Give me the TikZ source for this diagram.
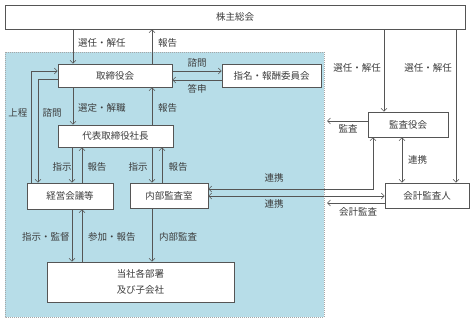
\documentclass[tikz,border=0pt]{standalone}
\usepackage{fontspec}
\newfontfamily\jp{Noto Sans CJK JP}
\usetikzlibrary{arrows.meta}
\definecolor{bluebg}{RGB}{183,221,232}
\definecolor{lin}{RGB}{85,85,85}
\definecolor{txt}{RGB}{60,60,60}
\begin{document}
\begin{tikzpicture}[x=1pt,y=-1pt,
  font=\jp\fontsize{9.5pt}{11pt}\selectfont,
  box/.style={draw=lin,fill=white,line width=0.6pt,inner sep=0pt,text=txt,align=center},
  lab/.style={text=txt,inner sep=0pt},
  arr/.style={draw=lin,line width=0.6pt,-{Straight Barb[length=3pt,width=6pt]}},
  darr/.style={draw=lin,line width=0.6pt,{Straight Barb[length=3pt,width=6pt]}-{Straight Barb[length=3pt,width=6pt]}}]
\useasboundingbox (0,0) rectangle (475,324);
\fill[white] (0,0) rectangle (475,324);
\draw[fill=bluebg,draw=black!35,line width=0.4pt,dash pattern=on 1pt off 1pt] (5,52) rectangle (324,317);
% boxes
\node[box,minimum width=460pt,minimum height=24pt] (soukai) at (235,17) {株主総会};
\node[box,minimum width=114pt,minimum height=23pt] (tori) at (115,75.5) {取締役会};
\node[box,minimum width=99pt,minimum height=23pt] (iinkai) at (271.5,75.5) {指名・報酬委員会};
\node[box,minimum width=115pt,minimum height=22pt] (daihyo) at (115.5,136) {代表取締役社長};
\node[box,minimum width=86pt,minimum height=26pt] (keiei) at (70,196) {経営会議等};
\node[box,minimum width=78pt,minimum height=25pt] (naibu) at (169,195.5) {内部監査室};
\node[box,minimum width=80pt,minimum height=25pt] (kansayaku) at (408,124.5) {監査役会};
\node[box,minimum width=84pt,minimum height=25pt] (kaikei) at (427,195.5) {会計監査人};
\node[box,minimum width=187pt,minimum height=40pt,font=\jp\fontsize{9.5pt}{16pt}\selectfont] (tousha) at (140.5,282) {当社各部署\\及び子会社};
% columns / rows
\coordinate (c31) at (31,0);
\coordinate (c38) at (38,0);
\coordinate (c72) at (72,0);
\coordinate (c73) at (73,0);
\coordinate (c82) at (82,0);
\coordinate (c152) at (152,0);
\coordinate (c162) at (162,0);
\coordinate (c373) at (373,0);
\coordinate (c384) at (384,0);
\coordinate (c402) at (402,0);
\coordinate (c456) at (456,0);
\coordinate (r71) at (0,71);
\coordinate (r79) at (0,79);
\coordinate (r80) at (0,80);
\coordinate (r121) at (0,121);
\coordinate (r189) at (0,189);
\coordinate (r196) at (0,196);
\coordinate (r203) at (0,203);
\coordinate (kansaend) at (327,121);
\coordinate (kaikeiend) at (327,203);
% connectors
\draw[arr] (soukai.south -| c73) -- (tori.north -| c73);
\node[lab,anchor=west] (l1) at (78,43) {選任・解任};
\draw[arr] (tori.north -| c152) -- (soukai.south -| c152);
\node[lab,anchor=west] (l2) at (158,43) {報告};
\draw[arr] (tori.east |- r71) -- (iinkai.west |- r71);
\node[lab] (l3) at (197,63) {諮問};
\draw[arr] (iinkai.west |- r80) -- (tori.east |- r80);
\node[lab] (l4) at (197,89) {答申};
\draw[arr] (tori.south -| c73) -- (daihyo.north -| c73);
\node[lab,anchor=west] (l5) at (78,108) {選定・解職};
\draw[arr] (daihyo.north -| c152) -- (tori.south -| c152);
\node[lab,anchor=west] (l6) at (158,108) {報告};
\draw[arr] (keiei.north -| c31) -- (c31 |- r71) -- (tori.west |- r71);
\node[lab] (l7) at (18,113) {上程};
\draw[arr] (tori.west |- r79) -- (c38 |- r79) -- (keiei.north -| c38);
\node[lab] (l8) at (52,113) {諮問};
\draw[arr] (daihyo.south -| c72) -- (keiei.north -| c72);
\node[lab] (l9) at (62,167) {指示};
\draw[arr] (keiei.north -| c82) -- (daihyo.south -| c82);
\node[lab] (l10) at (97,167) {報告};
\draw[arr] (daihyo.south -| c152) -- (naibu.north -| c152);
\node[lab] (l11) at (138,167) {指示};
\draw[arr] (naibu.north -| c162) -- (daihyo.south -| c162);
\node[lab] (l12) at (178,167) {報告};
\draw[arr] (keiei.south -| c72) -- (tousha.north -| c72);
\node[lab] (l13) at (46,237) {指示・監督};
\draw[arr] (tousha.north -| c82) -- (keiei.south -| c82);
\node[lab] (l14) at (112,237) {参加・報告};
\draw[arr] (naibu.south -| c152) -- (tousha.north -| c152);
\node[lab] (l15) at (178,237) {内部監査};
\draw[arr] (kansayaku.west |- r121) -- (kansaend);
\node[lab] (l16) at (348,129) {監査};
\draw[arr] (soukai.south -| c384) -- (kansayaku.north -| c384);
\node[lab] (l17) at (357,68) {選任・解任};
\draw[arr] (soukai.south -| c456) -- (kaikei.north -| c456);
\node[lab] (l18) at (428,68) {選任・解任};
\draw[darr] (kansayaku.south -| c402) -- (kaikei.north -| c402);
\node[lab,anchor=west] (l19) at (408,160) {連携};
\draw[darr] (naibu.east |- r189) -- (c373 |- r189) -- (kansayaku.south -| c373);
\node[lab] (l20) at (274,178) {連携};
\draw[darr] (naibu.east |- r196) -- (kaikei.west |- r196);
\node[lab] (l21) at (274,204) {連携};
\draw[arr] (kaikei.west |- r203) -- (kaikeiend);
\node[lab] (l22) at (358,212) {会計監査};
\end{tikzpicture}
\end{document}
